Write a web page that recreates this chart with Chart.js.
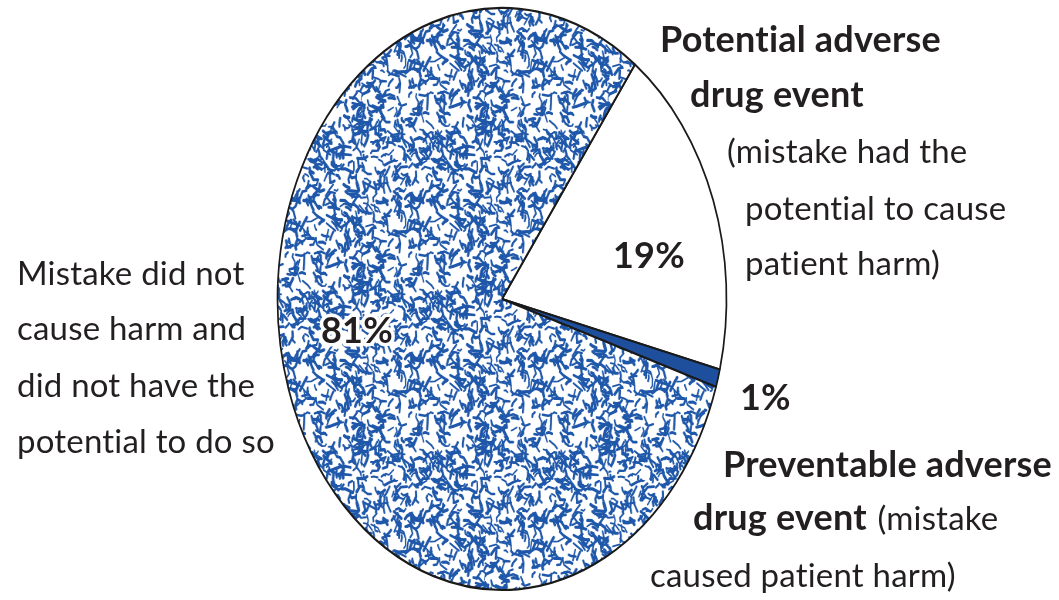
<!DOCTYPE html>
<html>
<head>
<meta charset="utf-8">
<script src="https://cdn.jsdelivr.net/npm/chart.js@4.4.1/dist/chart.umd.min.js"></script>
<style>
  html, body { margin: 0; padding: 0; background: #ffffff; }
  #wrap { position: relative; width: 1059px; height: 600px; }
  canvas { display: block; }
</style>
</head>
<body>
<div id="wrap"><canvas id="c" width="1059" height="600"></canvas></div>
<script>
// ---- data ----
const categories = [
  'Potential adverse drug event',
  'Preventable adverse drug event',
  'Mistake did not cause harm and did not have the potential to do so'
];
const values = [19, 1, 81];
const percentLabels = ['19%', '1%', '81%'];

// ---- texture for the large slice ----
function makeTexture() {
  const s = 160;
  const c = document.createElement('canvas');
  c.width = s; c.height = s;
  const g = c.getContext('2d');
  g.fillStyle = '#ffffff';
  g.fillRect(0, 0, s, s);
  let seed = 12345;
  const rnd = () => { seed = (seed * 1103515245 + 12345) & 0x7fffffff; return seed / 0x7fffffff; };
  g.strokeStyle = '#1f58aa';
  g.lineCap = 'round';
  g.lineJoin = 'round';
  for (let i = 0; i < 470; i++) {
    const x = rnd() * s, y = rnd() * s;
    const a = rnd() * Math.PI * 2;
    const len = 3 + rnd() * 7;
    g.lineWidth = 1.7 + rnd() * 1.7;
    for (let ox = -s; ox <= s; ox += s) {
      for (let oy = -s; oy <= s; oy += s) {
        g.beginPath();
        g.moveTo(x + ox, y + oy);
        const mx = x + ox + Math.cos(a) * len, my = y + oy + Math.sin(a) * len;
        g.lineTo(mx, my);
        const a2 = a + (rnd() - 0.5) * 2.2;
        g.lineTo(mx + Math.cos(a2) * len * 0.6, my + Math.sin(a2) * len * 0.6);
        g.stroke();
      }
    }
  }
  return g.createPattern(c, 'repeat');
}

const ctxEl = document.getElementById('c');
const texture = makeTexture();

const SX = 224.5 / 291;   // horizontal squeeze to make the pie elliptical

const ellipsePlugin = {
  id: 'ellipse',
  beforeDatasetsDraw(chart) {
    const a = chart.chartArea;
    const cx = (a.left + a.right) / 2, cy = (a.top + a.bottom) / 2;
    const ctx = chart.ctx;
    ctx.save();
    ctx.translate(cx, cy);
    ctx.scale(SX, 1);
    ctx.translate(-cx, -cy);
  },
  afterDatasetsDraw(chart) {
    chart.ctx.restore();
  }
};

const textPlugin = {
  id: 'texts',
  afterDraw(chart) {
    const ctx = chart.ctx;
    ctx.save();
    ctx.fillStyle = '#231f20';
    ctx.textBaseline = 'alphabetic';
    ctx.textAlign = 'left';
    if ('letterSpacing' in ctx) ctx.letterSpacing = '0.2px';
    const B = 'bold 36px Lato, "DejaVu Sans", sans-serif';
    const R = '33px Lato, "DejaVu Sans", sans-serif';
    const t = (s, x, y, f) => { ctx.font = f; ctx.fillText(s, x, y); return x + ctx.measureText(s).width; };
    // top right
    t('Potential adverse', 660, 52, B);
    t('drug event', 690, 107, B);
    t('(mistake had the', 727, 163, R);
    t('potential to cause', 745, 220, R);
    t('patient harm)', 745, 275, R);
    // percents
    t(percentLabels[0], 613, 268, B);
    t(percentLabels[1], 740, 410, B);
    // 81% with a white halo
    ctx.font = B;
    ctx.strokeStyle = '#ffffff';
    ctx.lineWidth = 7;
    ctx.lineJoin = 'round';
    ctx.strokeText(percentLabels[2], 321, 343);
    t(percentLabels[2], 321, 343, B);
    // bottom right
    t('Preventable adverse', 723, 477, B);
    const e = t('drug event', 693, 530, B);
    t(' (mistake', e + 2, 530, R);
    t('caused patient harm)', 650, 587, R);
    // left
    t('Mistake did not', 17, 285, R);
    t('cause harm and', 17, 340, R);
    t('did not have the', 17, 397, R);
    t('potential to do so', 17, 453, R);
    ctx.restore();
  }
};

new Chart(ctxEl, {
  type: 'pie',
  data: {
    labels: categories,
    datasets: [{
      data: values,
      backgroundColor: ['#ffffff', '#1d4f9c', texture],
      borderColor: '#1a1a1a',
      borderWidth: 2.2,
      borderAlign: 'center',
      radius: 291
    }]
  },
  options: {
    responsive: false,
    animation: false,
    rotation: 36.3,
    layout: { padding: { left: 0, right: 55, top: 0, bottom: 2 } },
    plugins: {
      legend: { display: false },
      tooltip: { enabled: false }
    }
  },
  plugins: [ellipsePlugin, textPlugin]
});
</script>
</body>
</html>
